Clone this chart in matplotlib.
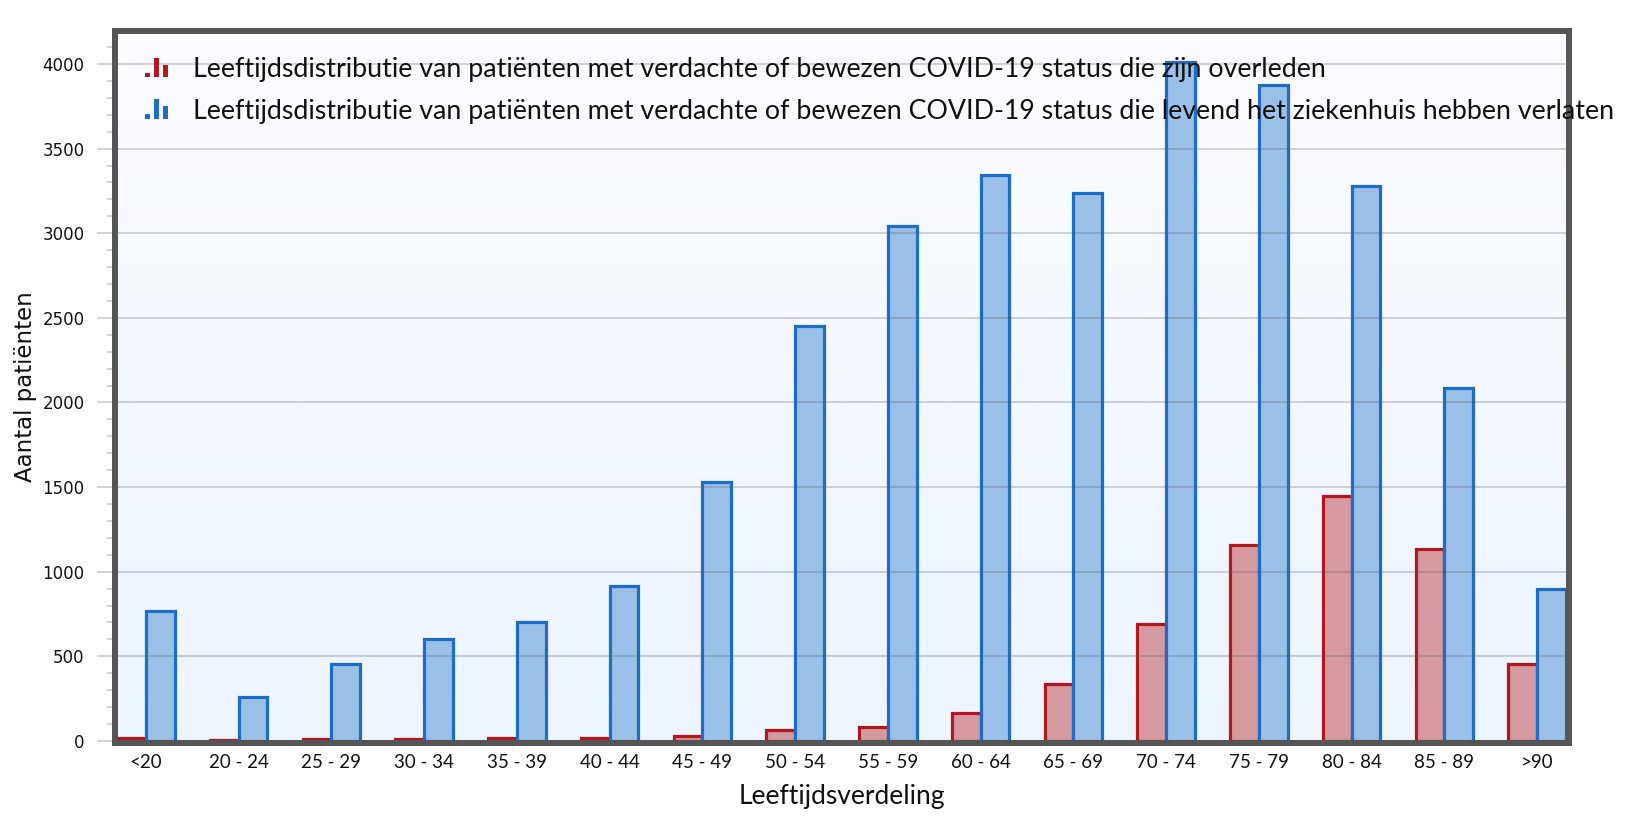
import numpy as np
import matplotlib
matplotlib.use("Agg")
import matplotlib.pyplot as plt
from matplotlib.patches import Patch, Rectangle
from matplotlib.legend_handler import HandlerBase
from matplotlib.colors import LinearSegmentedColormap

plt.rcParams['font.family'] = ['DejaVu Sans']

# age groups and patient counts
age_groups = ['<20', '20 - 24', '25 - 29', '30 - 34', '35 - 39', '40 - 44', '45 - 49',
              '50 - 54', '55 - 59', '60 - 64', '65 - 69', '70 - 74', '75 - 79',
              '80 - 84', '85 - 89', '>90']
deceased = [15, 8, 12, 12, 20, 20, 32, 62, 85, 166, 338, 692, 1160, 1450, 1135, 454]
discharged = [770, 260, 455, 605, 705, 915, 1530, 2450, 3040, 3345, 3240, 4010,
              3875, 3280, 2085, 895]

label_deceased = ('Leeftijdsdistributie van patiënten met verdachte of bewezen '
                  'COVID-19 status die zijn overleden')
label_discharged = ('Leeftijdsdistributie van patiënten met verdachte of bewezen '
                    'COVID-19 status die levend het ziekenhuis hebben verlaten')

red_edge, red_fill = '#b3161d', '#d59aa0'
blue_edge, blue_fill = '#1c6dc9', '#9bc0e8'
grid_col = '#cdd1d8'


class BarIconHandler(HandlerBase):
    # little three-bar icon like the one in the original legend
    def create_artists(self, legend, orig_handle, xdescent, ydescent,
                       width, height, fontsize, trans):
        col = orig_handle.get_facecolor()
        bw = width / 4.4
        gap = (width - 3 * bw) / 2
        heights = [0.25, 1.0, 0.65]
        arts = []
        for k, h in enumerate(heights):
            r = Rectangle((-xdescent + k * (bw + gap), -ydescent), bw, height * h,
                          facecolor=col, edgecolor='none', transform=trans)
            arts.append(r)
        return arts


fig = plt.figure(figsize=(16.28, 8.26), dpi=100)
ax = fig.add_axes([0.0706, 0.1005, 0.9638 - 0.0706, 0.9625 - 0.1005])

# soft vertical gradient behind the plot
bg = LinearSegmentedColormap.from_list('bg', ['#fbfcfe', '#ecf4fe'])
ax.imshow(np.linspace(0, 1, 256).reshape(-1, 1), cmap=bg, extent=[0, 1, 0, 1],
          transform=ax.transAxes, aspect='auto', origin='upper', zorder=0)

x = np.arange(len(age_groups))
w = 0.31
ax.bar(x - w / 2, deceased, width=w, color=red_fill, edgecolor=red_edge,
       linewidth=2.3, zorder=2)
ax.bar(x + w / 2, discharged, width=w, color=blue_fill, edgecolor=blue_edge,
       linewidth=2.3, zorder=2)

ax.set_xlim(-0.334, len(age_groups) - 1 + 0.345)
ax.set_ylim(-12, 4195)

ax.set_yticks(np.arange(0, 4001, 500))
ax.set_yticks(np.arange(0, 4190, 100), minor=True)
ax.grid(axis='y', which='major', color='#555a66', alpha=0.26, linewidth=1.4, zorder=3)
ax.set_axisbelow(False)
ax.tick_params(axis='y', which='major', length=13, width=1.3, color=grid_col,
               pad=9, labelsize=12, labelcolor='#111111')
ax.tick_params(axis='y', which='minor', length=5.5, width=1.3, color=grid_col)

ax.set_xticks(x)
ax.set_xticklabels(age_groups, fontfamily='Lato', fontsize=13.5, color='#111111')
ax.tick_params(axis='x', length=0, pad=8)

for s in ax.spines.values():
    s.set_color('#555555')
    s.set_linewidth(4.3)
    s.set_zorder(4)

ax.set_xlabel('Leeftijdsverdeling', fontfamily='Lato', fontsize=19, color='#111111',
              labelpad=9)
ax.set_ylabel('Aantal patiënten', fontsize=16.5, color='#111111', labelpad=4)

handles = [Patch(facecolor=red_edge), Patch(facecolor=blue_edge)]
leg = ax.legend(handles, [label_deceased, label_discharged],
                handler_map={Patch: BarIconHandler()},
                loc='upper left', bbox_to_anchor=(145 / 1628, 1 - 57 / 826),
                bbox_transform=fig.transFigure, frameon=False,
                prop={'family': 'Lato', 'size': 19.3}, handlelength=0.85,
                handleheight=0.75, handletextpad=0.95, labelspacing=0.62,
                borderpad=0, borderaxespad=0)
leg.set_zorder(10)
for t in leg.get_texts():
    t.set_color('#111111')

fig.savefig('out.png', dpi=100)
